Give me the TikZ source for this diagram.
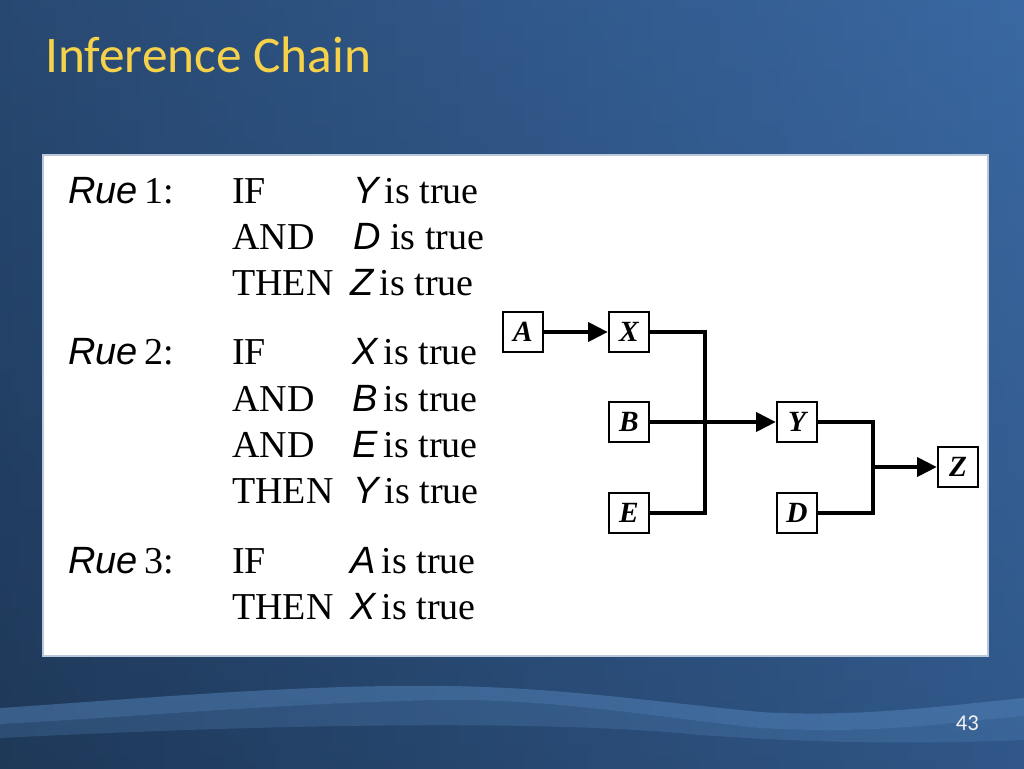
\documentclass[tikz,border=0pt]{standalone}
\usepackage{fontspec}
\setmainfont{Liberation Serif}
\setsansfont{Liberation Sans}
\newfontfamily\titlefont{Carlito}
\usetikzlibrary{arrows.meta}
\definecolor{bgl}{HTML}{1E3858}
\definecolor{bgr}{HTML}{3A68A2}
\definecolor{wave}{HTML}{5A8CC4}
\definecolor{titleyellow}{HTML}{F6D24A}
\definecolor{panelline}{HTML}{B8C8DA}
\tikzset{
  box/.style={draw=black, line width=1.5pt, fill=white, minimum width=30pt, minimum height=30pt, inner sep=0pt, font=\fontsize{22}{22}\selectfont\bfseries\itshape},
  conn/.style={line width=3.6pt, line join=miter},
  arr/.style={conn, -{Triangle[length=15pt,width=14pt]}},
  ruletext/.style={anchor=base west, inner sep=0pt, font=\fontsize{28.5}{28.5}\selectfont},
  rulename/.style={anchor=base west, inner sep=0pt, font=\fontsize{28.5}{28.5}\selectfont},
}
\newcommand{\vr}[1]{{\sffamily\itshape #1}}
\begin{document}
\begin{tikzpicture}[x=0.75pt,y=-0.75pt]
\useasboundingbox (0,0) rectangle (1024,768);
% background
\shade[left color=bgl, right color=bgr] (0,0) rectangle (1024,768);
\shade[top color=bgr, bottom color=bgl, opacity=0.35] (0,0) rectangle (1024,768);
% wave
\fill[wave, opacity=0.45] (0,708) .. controls (150,698) and (300,684) .. (450,686)
  .. controls (560,688) and (640,700) .. (760,712)
  .. controls (860,718) and (950,705) .. (1024,698) -- (1024,716)
  .. controls (950,722) and (880,735) .. (760,728)
  .. controls (640,715) and (560,700) .. (450,700)
  .. controls (300,702) and (150,716) .. (0,724) -- cycle;
\fill[wave, opacity=0.25] (0,724) .. controls (150,716) and (300,702) .. (450,700)
  .. controls (560,700) and (640,715) .. (760,728)
  .. controls (880,735) and (950,722) .. (1024,716) -- (1024,740)
  .. controls (900,745) and (800,742) .. (700,735)
  .. controls (600,725) and (400,718) .. (0,738) -- cycle;
% title
\node[anchor=base west, inner sep=0pt, text=titleyellow, font=\titlefont\fontsize{38.5}{38.5}\selectfont] (title) at (45,72) {Inference Chain};
% panel
\fill[white, draw=panelline, line width=0.8pt] (43,155) rectangle (988,656);
% rules
\node[rulename] (r1) at (68,203) {\vr{Rue}\,1:};
\node[ruletext] (r1a) at (232,203) {IF};
\node[ruletext] (r1b) at (353,203) {\vr{Y}\,is true};
\node[ruletext] (r1c) at (232,249) {AND};
\node[ruletext] (r1d) at (353,249) {\vr{D} is true};
\node[ruletext] (r1e) at (232,295) {THEN};
\node[ruletext] (r1f) at (350,295) {\vr{Z}\,is true};

\node[rulename] (r2) at (68,364) {\vr{Rue}\,2:};
\node[ruletext] (r2a) at (232,364) {IF};
\node[ruletext] (r2b) at (352,364) {\vr{X}\,is true};
\node[ruletext] (r2c) at (232,411) {AND};
\node[ruletext] (r2d) at (352,411) {\vr{B}\,is true};
\node[ruletext] (r2e) at (232,457) {AND};
\node[ruletext] (r2f) at (352,457) {\vr{E}\,is true};
\node[ruletext] (r2g) at (232,503) {THEN};
\node[ruletext] (r2h) at (353,503) {\vr{Y}\,is true};

\node[rulename] (r3) at (68,573) {\vr{Rue}\,3:};
\node[ruletext] (r3a) at (232,573) {IF};
\node[ruletext] (r3b) at (350,573) {\vr{A}\,is true};
\node[ruletext] (r3c) at (232,619) {THEN};
\node[ruletext] (r3d) at (350,619) {\vr{X}\,is true};
% diagram
\node[box] (A) at (523,332) {A};
\node[box] (X) at (629,332) {X};
\node[box] (B) at (629,422) {B};
\node[box] (E) at (629,513) {E};
\node[box] (Y) at (797,422) {Y};
\node[box] (D) at (797,513) {D};
\node[box] (Z) at (958,467) {Z};
\coordinate (jx) at (705,332);
\coordinate (je) at (705,513);
\coordinate (jy) at (873,422);
\coordinate (jd) at (873,513);
\coordinate (jz) at (873,467);
\draw[arr] (A) -- (X);
\draw[conn] (X.east) -- (jx) -- (je) -- (E.east);
\draw[arr] (B) -- (Y);
\draw[conn] (Y.east) -- (jy) -- (jd) -- (D.east);
\draw[arr] (jz) -- (Z);
% page number
\node[anchor=base east, inner sep=0pt, text=white!90!gray, font=\titlefont\fontsize{17}{17}\selectfont] (pg) at (979,730) {43};
\end{tikzpicture}
\end{document}
